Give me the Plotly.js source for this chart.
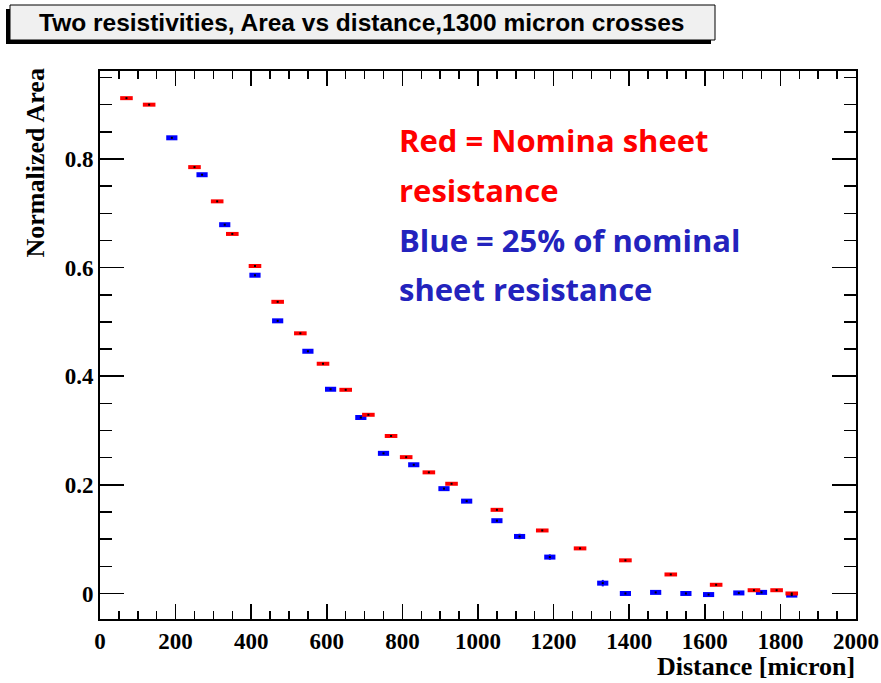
<!DOCTYPE html>
<html>
<head>
<meta charset="utf-8">
<script src="https://cdn.plot.ly/plotly-3.0.1.min.js"></script>
<style>html,body{margin:0;padding:0;background:#fff;}</style>
</head>
<body>
<div id="chart" style="width:881px;height:683px;"></div>
<script>
// Data
const redX = [70,130,250,310,350,410,470,530,590,650,710,770,810,870,930,1050,1170,1270,1390,1510,1630,1730,1790,1830];
const redY = [0.912,0.900,0.785,0.722,0.662,0.603,0.537,0.479,0.423,0.375,0.329,0.290,0.251,0.223,0.202,0.154,0.116,0.083,0.061,0.035,0.016,0.006,0.006,0.000];
const blueX = [190,270,330,410,470,550,610,690,750,830,910,970,1050,1110,1190,1330,1390,1470,1550,1610,1690,1750,1830];
const blueY = [0.839,0.771,0.679,0.586,0.502,0.446,0.376,0.324,0.258,0.237,0.193,0.170,0.134,0.105,0.067,0.019,0.000,0.002,0.000,-0.002,0.001,0.002,-0.003];
const blueErr = [0.002,0.002,0.002,0.002,0.002,0.002,0.002,0.002,0.002,0.002,0.002,0.002,0.002,0.005,0.005,0.006,0.002,0.002,0.002,0.002,0.002,0.002,0.003];

const titleText = "Two resistivities, Area vs distance,1300 micron crosses";
const xTitle = "Distance [micron]";
const yTitle = "Normalized Area";
const noteLines = [
  {text: "Red = Nomina sheet", color: "#ff0000"},
  {text: "resistance", color: "#ff0000"},
  {text: "Blue = 25% of nominal", color: "#2323bd"},
  {text: "sheet resistance", color: "#2323bd"}
];

// geometry (pixels -> paper)
const W = 881, H = 683;
const L = 100, R = 856, T = 71, B = 619;
const px = x => (x - L) / (R - L);
const py = y => (B - y) / (B - T);

const serif = "Liberation Serif, Times New Roman, serif";

const traces = [
  {x: blueX, y: blueY, type: "scatter", mode: "markers", name: "blue",
   error_y: {type: "data", array: blueErr, visible: true, color: "#0000ff", thickness: 2, width: 0},
   marker: {symbol: "line-ew", size: 8, color: "#0000ff", line: {color: "#0000ff", width: 5}}},
  {x: redX, y: redY, type: "scatter", mode: "markers", name: "red",
   marker: {symbol: "line-ew", size: 9, color: "#ff0000", line: {color: "#ff0000", width: 4}}},
  {x: blueX, y: blueY, type: "scatter", mode: "markers", name: "bc",
   marker: {symbol: "square", size: 2, color: "#000"}},
  {x: redX, y: redY, type: "scatter", mode: "markers", name: "rc",
   marker: {symbol: "square", size: 2, color: "#000"}}
];

const annotations = [
  {text: "<b>" + titleText + "</b>", xref: "paper", yref: "paper", x: px(362), y: py(22),
   xanchor: "center", yanchor: "middle", showarrow: false,
   font: {family: "Liberation Sans, Arial, sans-serif", size: 24.5, color: "#000"}},
  {text: "<b>" + xTitle + "</b>", xref: "paper", yref: "paper", x: px(857), y: py(667),
   xanchor: "right", yanchor: "middle", showarrow: false,
   font: {family: serif, size: 26, color: "#000"}},
  {text: "<b>" + yTitle + "</b>", xref: "paper", yref: "paper", x: px(35), y: py(67),
   xanchor: "center", yanchor: "top", textangle: -90, showarrow: false,
   font: {family: serif, size: 26, color: "#000"}}
];
const lineY = [140, 190, 240, 289];
noteLines.forEach((ln, i) => {
  annotations.push({text: "<b>" + ln.text + "</b>", xref: "paper", yref: "paper",
    x: px(397), y: py(lineY[i]), xanchor: "left", yanchor: "middle", showarrow: false,
    font: {family: "Open Sans, sans-serif", size: 31, color: ln.color}});
});

const shapes = [
  {type: "rect", xref: "paper", yref: "paper", x0: px(6), x1: px(711), y0: py(44), y1: py(9),
   fillcolor: "#000", line: {width: 0}, layer: "below"},
  {type: "rect", xref: "paper", yref: "paper", x0: px(10), x1: px(715), y0: py(40), y1: py(5),
   fillcolor: "#f0f0f0", line: {color: "#000", width: 1}, layer: "below"}
];

const layout = {
  width: W, height: H,
  margin: {l: L, r: W - R, t: T, b: H - B, pad: 0},
  paper_bgcolor: "#fff", plot_bgcolor: "#fff",
  showlegend: false,
  xaxis: {range: [0, 2000], dtick: 200, tick0: 0, showgrid: false, zeroline: false,
    showline: true, linewidth: 2, linecolor: "#000", mirror: "allticks",
    ticks: "inside", ticklen: 15, tickwidth: 1.5, tickcolor: "#000",
    minor: {dtick: 50, ticks: "inside", ticklen: 8, tickwidth: 1.5, tickcolor: "#000", showgrid: false},
    tickfont: {family: serif, size: 23, color: "#000", weight: "bold"}},
  yaxis: {range: [-0.047, 0.962], dtick: 0.2, tick0: 0, showgrid: false, zeroline: false,
    showline: true, linewidth: 2, linecolor: "#000", mirror: "allticks",
    ticks: "inside", ticklen: 24, tickwidth: 1.5, tickcolor: "#000",
    minor: {dtick: 0.05, ticks: "inside", ticklen: 12, tickwidth: 1.5, tickcolor: "#000", showgrid: false},
    tickfont: {family: serif, size: 23, color: "#000", weight: "bold"}},
  annotations: annotations,
  shapes: shapes
};

Plotly.newPlot("chart", traces, layout, {displayModeBar: false, staticPlot: true});
</script>
</body>
</html>
